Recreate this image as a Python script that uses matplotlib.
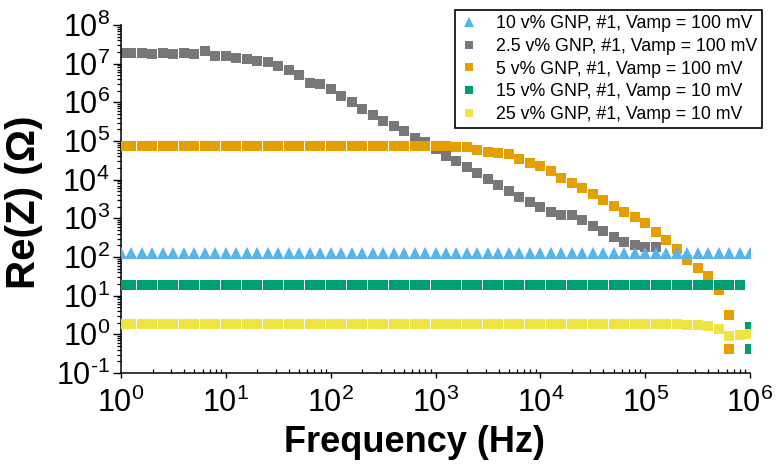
import numpy as np
import matplotlib
matplotlib.use("Agg")
import matplotlib.pyplot as plt
from matplotlib.ticker import LogLocator, NullFormatter, FuncFormatter

plt.rcParams['font.family'] = ['Liberation Sans', 'DejaVu Sans']
plt.rcParams['mathtext.fontset'] = 'custom'
plt.rcParams['mathtext.rm'] = 'Liberation Sans'

# frequency sweep, 10 points per decade, 1 Hz .. 1 MHz
freq = np.logspace(0, 6, 61)

labels = [
    "10 v% GNP, #1, Vamp = 100 mV",
    "2.5 v% GNP, #1, Vamp = 100 mV",
    "5 v% GNP, #1, Vamp = 100 mV",
    "15 v% GNP, #1, Vamp = 10 mV",
    "25 v% GNP, #1, Vamp = 10 mV",
]
colors = ["#56B4E9", "#777777", "#E69F00", "#009E73", "#F0E442"]

# Re(Z) in ohm
re_10 = [126, 126, 126, 126, 126, 126, 126, 126, 126, 126,
         126, 126, 126, 126, 126, 126, 126, 126, 126, 126,
         126, 126, 126, 126, 126, 126, 126, 126, 126, 126,
         126, 126, 126, 126, 126, 126, 126, 126, 126, 126,
         126, 126, 126, 126, 126, 126, 126, 126, 126, 126,
         126, 126, 126, 126, 126, 126, 126, 126, 126, 126,
         126]
re_2p5 = [1.86e7, 1.86e7, 1.91e7, 1.78e7, 1.86e7, 1.82e7, 1.91e7, 1.82e7, 2.14e7, 1.58e7,
          1.55e7, 1.41e7, 1.29e7, 1.20e7, 1.10e7, 8.5e6, 6.9e6, 5.1e6, 3.2e6, 2.95e6,
          2.19e6, 1.45e6, 1.02e6, 6.8e5, 4.7e5, 3.3e5, 2.4e5, 1.78e5, 1.20e5, 9.3e4,
          6.2e4, 4.2e4, 3.1e4, 2.1e4, 1.51e4, 1.05e4, 7.4e3, 5.2e3, 3.6e3, 2.6e3,
          1.95e3, 1.48e3, 1.20e3, 1.23e3, 910, 630, 470, 320, 245, 200,
          186, 186]
re_5 = [7.3e4, 7.4e4, 7.6e4, 7.6e4, 7.6e4, 7.6e4, 7.6e4, 7.6e4, 7.6e4, 7.6e4,
        7.6e4, 7.6e4, 7.4e4, 7.6e4, 7.6e4, 7.6e4, 7.6e4, 7.6e4, 7.6e4, 7.6e4,
        7.6e4, 7.6e4, 7.6e4, 7.6e4, 7.6e4, 7.6e4, 7.6e4, 7.6e4, 7.5e4, 7.5e4,
        7.5e4, 7.4e4, 6.8e4, 6.8e4, 5.9e4, 5.2e4, 4.8e4, 4.5e4, 3.5e4, 2.75e4,
        2.2e4, 1.7e4, 1.1e4, 8.3e3, 6.2e3, 4.3e3, 3.0e3, 2.1e3, 1.45e3, 1.1e3,
        760, 440, 275, 162, 83, 51, 32, 14, 3.2, 0.42]
f_5 = list(freq[:59]) + [freq[58]]
re_15 = [19, 19, 19, 19, 19, 19, 19, 19, 19, 19,
         19, 19, 19, 19, 19, 19, 19, 19, 19, 19,
         19, 19, 19, 19, 19, 19, 19, 19, 19, 19,
         19, 19, 19, 19, 19, 19, 19, 19, 19, 19,
         19, 19, 19, 19, 19, 19, 19, 19, 19, 19,
         19, 19, 19, 19, 19, 19, 19, 19, 19, 19,
         1.55, 0.42]
f_15 = list(freq) + [freq[60]]
re_25 = [1.9, 1.9, 1.9, 1.9, 1.9, 1.9, 1.9, 1.9, 1.9, 1.9,
         1.9, 1.9, 1.9, 1.9, 1.9, 1.9, 1.9, 1.9, 1.9, 1.9,
         1.9, 1.9, 1.9, 1.9, 1.9, 1.9, 1.9, 1.9, 1.9, 1.9,
         1.9, 1.9, 1.9, 1.9, 1.9, 1.9, 1.9, 1.9, 1.9, 1.9,
         1.9, 1.9, 1.9, 1.9, 1.9, 1.9, 1.9, 1.9, 1.9, 1.9,
         1.9, 1.9, 1.9, 1.9, 1.75, 1.70, 1.65, 1.35, 0.91, 0.96,
         1.02]

xticks = [1e0, 1e1, 1e2, 1e3, 1e4, 1e5, 1e6]
yticks = [1e-1, 1e0, 1e1, 1e2, 1e3, 1e4, 1e5, 1e6, 1e7, 1e8]


def decade_label(v, pos):
    # short hyphen for negative exponents instead of the math minus
    e = int(round(np.log10(v)))
    s = str(e) if e >= 0 else r'\text{-}' + str(-e)
    return r'$\mathdefault{10^{%s}}$' % s


fig = plt.figure(figsize=(7.77, 4.76), dpi=100)
ax = fig.add_axes([0.1557, 0.2164, 0.8096, 0.7311])

series = [
    (freq, re_10, '^', 8.5, 4),
    (freq[:52], re_2p5, 's', 6.8, 2),
    (f_5, re_5, 's', 6.8, 3),
    (f_15, re_15, 's', 6.8, 5),
    (freq, re_25, 's', 6.8, 6),
]
handles = []
for (x, y, m, ms, z), c, lab in zip(series, colors, labels):
    h, = ax.plot(x, y, linestyle='none', marker=m, markersize=ms, color=c,
                 markeredgewidth=0, label=lab, zorder=z)
    handles.append(h)

ax.set_xscale('log')
ax.set_yscale('log')
ax.set_xlim(1, 1e6)
ax.set_ylim(1e-1, 1e8)

ax.set_xticks(xticks)
ax.set_yticks(yticks)
ax.xaxis.set_minor_locator(LogLocator(base=10, subs=np.arange(2, 10), numticks=100))
ax.yaxis.set_minor_locator(LogLocator(base=10, subs=np.arange(2, 10), numticks=100))
ax.xaxis.set_major_formatter(FuncFormatter(decade_label))
ax.yaxis.set_major_formatter(FuncFormatter(decade_label))
ax.xaxis.set_minor_formatter(NullFormatter())
ax.yaxis.set_minor_formatter(NullFormatter())

for s in ['top', 'right']:
    ax.spines[s].set_visible(False)
for s in ['left', 'bottom']:
    ax.spines[s].set_linewidth(1.1)

ax.tick_params(axis='x', which='major', direction='out', length=3.5, width=1.0,
               labelsize=22, pad=7)
ax.tick_params(axis='x', which='minor', direction='in', length=3, width=0.9)
ax.tick_params(axis='y', which='major', direction='out', length=6, width=1.0,
               labelsize=22, pad=2)
ax.tick_params(axis='y', which='minor', direction='out', length=3, width=0.9)

ax.set_xlabel('Frequency (Hz)', fontsize=26, fontweight='bold')
ax.xaxis.set_label_coords(0.467, -0.15)
ax.set_ylabel('Re(Z) (\u03a9)', fontsize=29, fontweight='bold')
ax.yaxis.set_label_coords(-0.124, 0.49)

leg = ax.legend(handles=handles, loc='upper right', bbox_to_anchor=(0.981, 0.979),
                bbox_transform=fig.transFigure, borderaxespad=0, fontsize=12.8,
                frameon=True, fancybox=False, framealpha=1, edgecolor='black',
                handlelength=1.0, handletextpad=1.0, labelspacing=0.32,
                borderpad=0.3, markerscale=0.9)
leg.get_frame().set_linewidth(1.2)

fig.savefig('out.png', dpi=100)
